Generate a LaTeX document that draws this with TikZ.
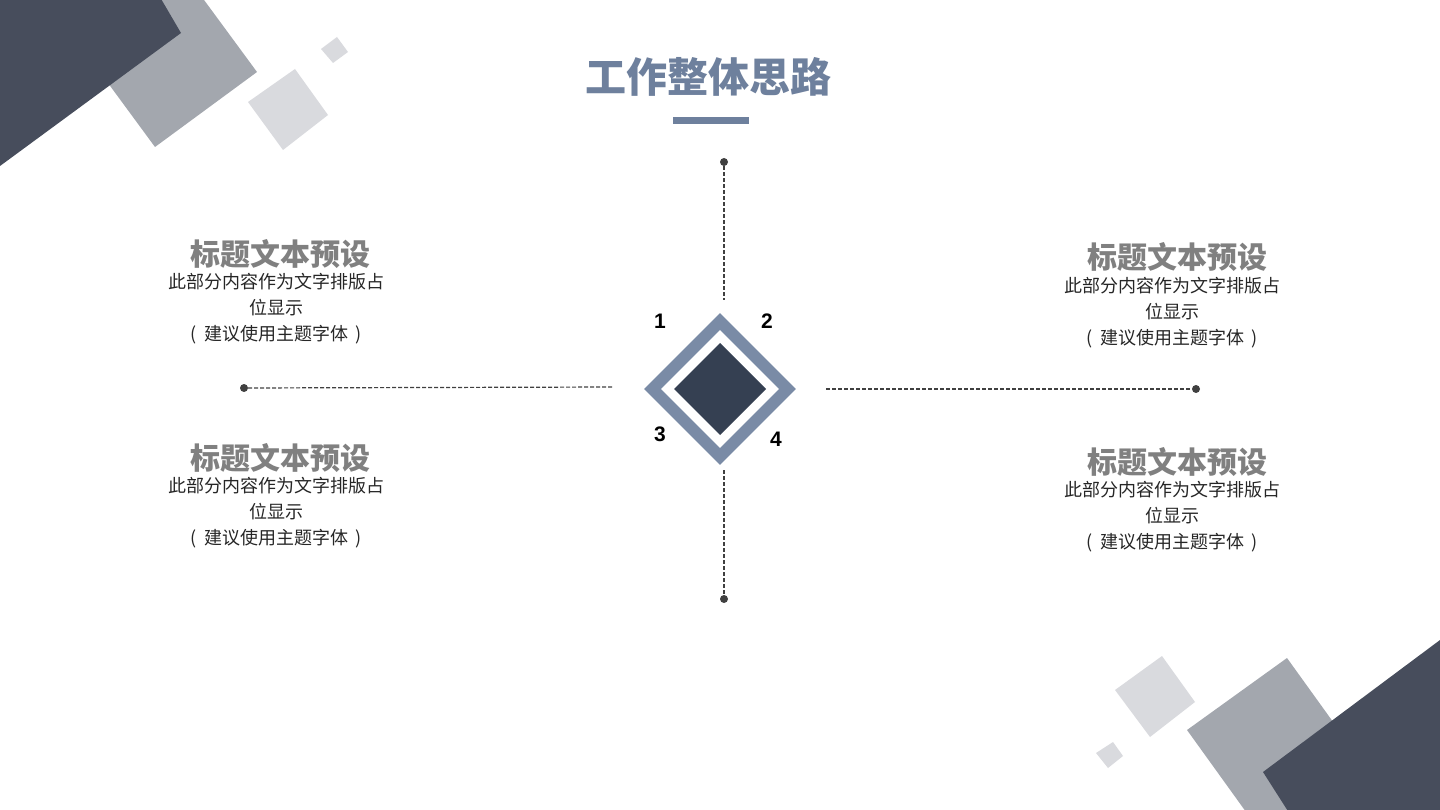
\documentclass[tikz,border=0pt]{standalone}
\usepackage{fontspec}
\setmainfont{Liberation Sans}
\newfontfamily\cjk{Noto Sans CJK SC}
\definecolor{darkdeco}{HTML}{474D5C}
\definecolor{middeco}{HTML}{A3A7AE}
\definecolor{lightdeco}{HTML}{D9DADE}
\definecolor{titleblue}{HTML}{6E809D}
\definecolor{bandblue}{HTML}{7A8BA6}
\definecolor{corenavy}{HTML}{354052}
\definecolor{headgray}{HTML}{808080}
\definecolor{bodyblack}{HTML}{262626}
\definecolor{lineclr}{HTML}{404040}
\newcommand{\pnote}{(\hspace{0.4em}建议使用主题字体\hspace{0.4em})}
\tikzset{
  dot/.style={circle,fill=lineclr,inner sep=0pt,minimum size=8pt},
  conn/.style={draw=lineclr,line width=1.2pt,dash pattern=on 4pt off 2pt},
  heading/.style={font=\cjk\bfseries\fontsize{30}{34}\selectfont,text=headgray,inner sep=0pt},
  body/.style={font=\cjk\fontsize{18}{26}\selectfont,text=bodyblack,align=center,inner sep=0pt},
  num/.style={font=\bfseries\fontsize{21}{24}\selectfont,text=black,inner sep=0pt},
}
\begin{document}
\begin{tikzpicture}[x=1pt,y=-1pt]
\useasboundingbox (0,0) rectangle (1440,810);
\begin{scope}
\clip (0,0) rectangle (1440,810);
% top-left decoration
\fill[middeco] (182,-30) -- (257,72) -- (155,147) -- (80,45) -- cycle;
\fill[darkdeco] (-20,-20) -- (150,-20) -- (181,33) -- (0,166) -- (-20,180) -- cycle;
\fill[lightdeco] (295,69) -- (328,115) -- (283,150) -- (248,102) -- cycle;
\fill[lightdeco] (337,37) -- (348,52) -- (333,63) -- (321,49) -- cycle;
% bottom-right decoration
\fill[lightdeco] (1162,656) -- (1195,702) -- (1150,737) -- (1115,690) -- cycle;
\fill[lightdeco] (1113,742) -- (1123,756) -- (1108,768) -- (1096,753) -- cycle;
\fill[middeco] (1287,658) -- (1359,758) -- (1259,830) -- (1187,730) -- cycle;
\fill[darkdeco] (1440,640) -- (1263,772) -- (1300,830) -- (1460,830) -- (1460,640) -- cycle;
\end{scope}
% title
\node[font=\cjk\bfseries\fontsize{41}{46}\selectfont,text=titleblue,inner sep=0pt] (title) at (708,77) {工作整体思路};
\fill[titleblue] (673,117) rectangle (749,124);
% center diamond
\coordinate (c) at (720,389);
\draw[bandblue,line width=12pt,miter limit=10] (720,321.5) -- (787.5,389) -- (720,456.5) -- (652.5,389) -- cycle;
\fill[corenavy] (720,343) -- (766,389) -- (720,435) -- (674,389) -- cycle;
\node[num] (n1) at (660,321) {1};
\node[num] (n2) at (767,321) {2};
\node[num] (n3) at (660,434) {3};
\node[num] (n4) at (776,439) {4};
% connectors
\node[dot] (dtop) at (724,162) {};
\coordinate (etop) at (724,300);
\node[dot] (dbot) at (724,599) {};
\coordinate (ebot) at (724,470);
\node[dot] (dleft) at (244,388) {};
\coordinate (eleft) at (613,387);
\node[dot] (dright) at (1196,389) {};
\coordinate (eright) at (826,389);
\draw[conn] (dtop) -- (etop);
\draw[conn] (ebot) -- (dbot);
\draw[conn] (dleft) -- (eleft);
\draw[conn] (eright) -- (dright);
% text blocks
\node[heading] (h1) at (280,254) {标题文本预设};
\node[body] (b1) at (276,309) {此部分内容作为文字排版占\\位显示\\\pnote};
\node[heading] (h2) at (280,458) {标题文本预设};
\node[body] (b2) at (276,513) {此部分内容作为文字排版占\\位显示\\\pnote};
\node[heading] (h3) at (1177,257) {标题文本预设};
\node[body] (b3) at (1172,313) {此部分内容作为文字排版占\\位显示\\\pnote};
\node[heading] (h4) at (1177,462) {标题文本预设};
\node[body] (b4) at (1172,517) {此部分内容作为文字排版占\\位显示\\\pnote};
\end{tikzpicture}
\end{document}
